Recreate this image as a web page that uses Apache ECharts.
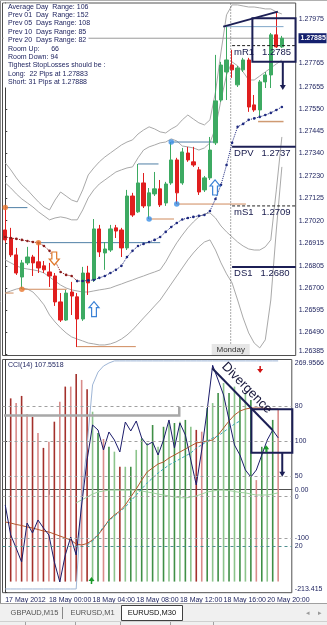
<!DOCTYPE html>
<html>
<head>
<meta charset="utf-8">
<script src="https://cdn.jsdelivr.net/npm/echarts@6.0.0/dist/echarts.min.js"></script>
<style>
html,body{margin:0;padding:0;background:#ffffff;overflow:hidden}
#chart{width:327px;height:625px}
</style>
</head>
<body>
<div id="chart"></div>
<script>
// ---------------- DATA ----------------
const barTimes = ['17 May 20:00','17 May 20:30','17 May 21:00','17 May 21:30','17 May 22:00','17 May 22:30','17 May 23:00','17 May 23:30',
'18 May 00:00','18 May 00:30','18 May 01:00','18 May 01:30','18 May 02:00','18 May 02:30','18 May 03:00','18 May 03:30',
'18 May 04:00','18 May 04:30','18 May 05:00','18 May 05:30','18 May 06:00','18 May 06:30','18 May 07:00','18 May 07:30',
'18 May 08:00','18 May 08:30','18 May 09:00','18 May 09:30','18 May 10:00','18 May 10:30','18 May 11:00','18 May 11:30',
'18 May 12:00','18 May 12:30','18 May 13:00','18 May 13:30','18 May 14:00','18 May 14:30','18 May 15:00','18 May 15:30',
'18 May 16:00','18 May 16:30','18 May 17:00','18 May 17:30','18 May 18:00','18 May 18:30','18 May 19:00','18 May 19:30',
'20 May 20:00','20 May 20:30','20 May 21:00',' ','  '];
const xLabelIndex = [0,8,16,24,32,40,48];
const xLabelText = ['17 May 2012','18 May 00:00','18 May 04:00','18 May 08:00','18 May 12:00','18 May 16:00','20 May 20:00'];

const opens  = [1.26976,1.26938,1.26858,1.26753,1.26820,1.26848,1.26825,1.26806,1.26777,1.26758,1.26635,1.26549,1.26682,1.26659,1.26554,1.26772,1.26739,1.26981,1.26867,1.26881,1.26986,1.26976,1.26891,1.27137,1.27062,1.27199,1.27090,1.27147,1.27171,1.27104,1.27199,1.27308,1.27199,1.27341,1.27299,1.27261,1.27166,1.27223,1.27389,1.27592,1.27725,1.27758,1.27664,1.27735,1.27782,1.27569,1.27545,1.27678,1.27711,1.27901,1.27844];
const closes = [1.26929,1.26858,1.26772,1.26820,1.26848,1.26820,1.26796,1.26787,1.26758,1.26635,1.26549,1.26677,1.26663,1.26554,1.26772,1.26725,1.26981,1.26872,1.26886,1.26981,1.26971,1.26891,1.27137,1.27047,1.27199,1.27090,1.27152,1.27171,1.27095,1.27194,1.27308,1.27152,1.27346,1.27308,1.27284,1.27156,1.27223,1.27355,1.27588,1.27758,1.27782,1.27735,1.27744,1.27782,1.27559,1.27545,1.27678,1.27711,1.27901,1.27844,1.27885];
const lows   = [1.26915,1.26848,1.26763,1.26696,1.26810,1.26758,1.26772,1.26772,1.26706,1.26616,1.26540,1.26545,1.26573,1.26421,1.26545,1.26668,1.26730,1.26848,1.26787,1.26872,1.26938,1.26848,1.26881,1.27038,1.27057,1.27080,1.27028,1.27137,1.27085,1.27090,1.27190,1.27099,1.27190,1.27299,1.27275,1.27142,1.27156,1.27213,1.27379,1.27583,1.27592,1.27697,1.27654,1.27725,1.27536,1.27536,1.27512,1.27649,1.27649,1.27839,1.27839];
const highs  = [1.27085,1.26986,1.26891,1.26834,1.26896,1.26858,1.26915,1.26829,1.26820,1.26772,1.26677,1.26692,1.26730,1.26677,1.26801,1.26806,1.27028,1.27000,1.26919,1.27000,1.27000,1.26986,1.27166,1.27152,1.27289,1.27246,1.27175,1.27251,1.27213,1.27204,1.27393,1.27318,1.27365,1.27370,1.27370,1.27275,1.27232,1.27417,1.27806,1.27773,1.27939,1.27830,1.27754,1.27792,1.27792,1.27616,1.27687,1.27725,1.27910,1.28010,1.27896];

const maValues = [1.26943,1.26938,1.26934,1.26929,1.26924,1.26919,1.26915,1.26900,1.26877,1.26829,1.26777,1.26763,1.26758,1.26734,1.26734,1.26737,1.26739,1.26749,1.26758,1.26772,1.26787,1.26806,1.26848,1.26877,1.26900,1.26910,1.26919,1.26929,1.26943,1.26967,1.26990,1.27009,1.27026,1.27033,1.27038,1.27043,1.27047,1.27066,1.27123,1.27190,1.27284,1.27389,1.27465,1.27479,1.27498,1.27505,1.27512,1.27521,1.27531,1.27545,1.27559];
const maTrendTurn = 13;

const bandUpperOuter = [1.27294,1.27261,1.27223,1.27190,1.27166,1.27137,1.27109,1.27085,1.27071,1.27118,1.27156,1.27137,1.27118,1.27109,1.27166,1.27237,1.27270,1.27299,1.27322,1.27341,1.27360,1.27379,1.27393,1.27403,1.27431,1.27450,1.27465,1.27455,1.27441,1.27436,1.27455,1.27469,1.27498,1.27521,1.27502,1.27484,1.27474,1.27498,1.27630,1.27820,1.27996,1.28043,1.28043,1.28038,1.28033,1.28033,1.28029,1.28024,1.28024,1.28010,1.28000];
const bandUpperInner = [1.27199,1.27175,1.27147,1.27123,1.27104,1.27085,1.27062,1.27043,1.27024,1.27033,1.27038,1.27033,1.27024,1.27024,1.27071,1.27128,1.27166,1.27194,1.27213,1.27232,1.27251,1.27261,1.27270,1.27275,1.27318,1.27355,1.27370,1.27379,1.27389,1.27393,1.27408,1.27398,1.27374,1.27370,1.27365,1.27355,1.27365,1.27389,1.27460,1.27592,1.27711,1.27773,1.27754,1.27725,1.27687,1.27687,1.27706,1.27725,1.27744,1.27763,1.27782];
const bandLowerInner = [1.26834,1.26820,1.26806,1.26796,1.26791,1.26787,1.26782,1.26772,1.26753,1.26734,1.26715,1.26701,1.26692,1.26687,1.26682,1.26682,1.26687,1.26692,1.26696,1.26701,1.26711,1.26720,1.26730,1.26739,1.26749,1.26758,1.26768,1.26777,1.26787,1.26825,1.26872,1.26915,1.26952,1.26986,1.27014,1.27038,1.27052,1.27057,1.27033,1.26995,1.26967,1.26943,1.26919,1.26900,1.26886,1.26881,1.26881,1.26896,1.26929,1.27166,1.27417];
const bandLowerOuter = [1.26677,1.26687,1.26696,1.26701,1.26696,1.26682,1.26654,1.26621,1.26573,1.26540,1.26512,1.26488,1.26469,1.26459,1.26450,1.26440,1.26436,1.26431,1.26431,1.26436,1.26445,1.26459,1.26478,1.26502,1.26530,1.26559,1.26587,1.26616,1.26644,1.26682,1.26720,1.26758,1.26796,1.26834,1.26867,1.26896,1.26919,1.26929,1.26881,1.26820,1.26768,1.26725,1.26644,1.26559,1.26488,1.26440,1.26417,1.26455,1.26644,1.26976,1.27275];

const priceTicks = ['1.26385','1.26490','1.26595','1.26700','1.26805','1.26915','1.27020','1.27125','1.27230','1.27340','1.27445','1.27550','1.27655','1.27765','1.27975'];
const currentPrice = 1.27885;
const currentPriceText = '1.27885';

const pivotNames  = ['mR1','DPV','mS1','DS1'];
const pivotValues = [1.2785,1.2737,1.2709,1.2680];
const pivotStartBar = 41;

// fractal levels: [bar, price, last bar of line]
const upperFractals = [[0,1.27082,4],[6,1.26916,28],[24,1.27289,27.7],[30,1.27393,37.6]];
const lowerFractals = [[0,1.26677,1.5],[3,1.26695,11.1],[13,1.26423,23.6],[26,1.27028,30.5],[31,1.27099,43.5]];
const fractalDots = [[0,1.27082],[3,1.26695],[6,1.26916],[26,1.27028],[30,1.27393],[31,1.27099]];

const infoLines = ['Average Day  Range: 106','Prev 01  Day  Range: 152','Prev 05  Days Range: 108','Prev 10  Days Range: 85','Prev 20  Days Range: 82','Room Up:      66','Room Down: 94','Tighest StopLosses should be :','Long:  22 Pips at 1.27883','Short: 31 Pips at 1.27888'];

// CCI window
const cciTitle = 'CCI(14) 107.5518';
const cciValues = [-31.6,-93.8,-120.8,-149.8,-69.0,-89.7,-62.7,-79.3,-93.8,-149.8,-191.2,-135.3,-98.0,-135.3,-31.6,61.6,134.2,123.8,82.4,119.7,103.1,78.2,140.4,121.8,142.5,107.2,92.7,98.9,72.0,103.1,144.6,86.5,138.3,113.5,61.6,9.8,82.4,165.3,258.0,227.5,196.4,144.6,92.7,72.0,40.9,26.4,40.9,72.0,103.1,123.8,107.55];
const cciAverage = [-66.9,-69.0,-72.0,-74.1,-77.2,-79.3,-82.4,-85.5,-87.6,-91.7,-95.9,-100.0,-104.2,-112.5,-114.5,-111.4,-104.2,-93.8,-79.3,-62.7,-52.4,-44.1,-31.6,-15.0,1.5,20.2,36.8,45.1,53.4,57.5,65.8,72.0,78.2,84.4,90.7,96.9,98.9,101.0,103.1,113.5,128.0,142.5,154.9,163.2,167.3,169.4,169.4,169.4,168.4,167.3,167.3];
const cciSignal = [null,null,null,null,null,null,null,null,null,null,null,null,null,null,null,-114.5,-106.3,-91.7,-77.2,-64.8,-54.4,-46.1,-35.8,-23.3,-10.9,1.5,14.0,24.3,34.7,43.0,51.3,57.5,63.7,69.9,76.2,86.5,92.7,101.0,107.2,111.4,119.7,128.0,136.3,142.5];
const oscLine = [1.6,1.6,1.6,1.6,1.6,1.6,1.6,1.6,1.6,1.6,1.6,1.6,1.6,1.6,40.6,63.3,89.1,94.6,97.2,98.5,99.4,99.4,99.4,99.4,99.4,99.4,99.4,99.4,99.4,99.4,99.4,99.4,99.4,99.4,99.4,99.4,99.4,99.4,99.4,99.4,99.4,99.4,99.4,99.4,99.4,99.4,99.4,99.4,99.4,99.4,99.4];
const greenLine = [null,null,null,null,null,null,null,null,null,null,null,null,null,38.5,39.8,41.0,42.3,43.2,43.6,44.0,44.0,44.0,44.0,44.0,44.0,43.6,43.2,42.8,42.3,41.9,41.5,41.0,40.8,40.6,41.0,41.5,42.3,43.2,43.6,44.0,44.0,43.8,43.4,43.0,42.8,42.3,41.9,41.9,41.9,42.3,42.8];
const histValues = [null,82.5,80.4,83.6,75.5,74.2,66.9,60.2,63.0,72.0,81.0,87.8,87.8,93.5,90.8,86.6,76.5,66.9,64.2,60.7,58.5,51.7,51.7,51.7,59.3,64.5,62.4,70.5,60.7,69.7,71.4,71.4,72.0,72.8,69.7,68.3,67.5,78.2,80.4,84.9,89.4,84.9,87.8,83.3,84.9,81.8,45.7,60.7,60.7,72.8,77.7];
const histDir = ['','D','D','D','D','D','D','D','D','D','D','D','D','D','D','D','U','U','D','U','U','D','U','U','U','U','U','U','U','U','U','U','U','U','U','D','D','U','U','U','U','U','U','U','U','U','D','U','U','U','D'];

const cciTickValues = [269.9566,100,0,-100,-213.415];
const cciTickText = ['269.9566','100','0.00','-100','-213.415'];
const levelValues = [80,50,41.2,20];
const levelText = ['80','50','0','20'];

// trader annotations (bar index, value)
const mainBox = [[44.67,1.27980],[52.47,1.27774]];
const mainBoxArrow = [50.17,1.27774,1.27640];
const trendLine = [[39.41,1.27940],[49.28,1.28011]];
const resistanceLine = [[39.4,1.27940],[50.3,1.27940]];
const supportLine = [[45.7,1.27490],[50.3,1.27490]];
const upArrows = [[16.04,1.26636],[37.92,1.27213]];
const downArrows = [[8.86,1.26810]];
const divergenceLine = [[37.92,251.7],[48.97,123.8]];
const divergenceText = [44.25,210.9];
const cciBox = [[45.1,166.7],[52.6,76.8]];
const cciBoxArrow = [50.75,76.8,27.0];
const cciSmallDown = [[46.7,248.2]];
const cciSmallUp = [[47.8,85.9],[15.8,-187.1]];
const cciLabelFrame = [[-0.23,153.9],[31.88,153.9],[31.88,171.5]];

const tabs = ['GBPAUD,M15','EURUSD,M1','EURUSD,M30'];

// ---------------- CHART ----------------
const NAVY = '#1a1f5c';
const FONT = '"Liberation Sans", Arial, sans-serif';
const chart = echarts.init(document.getElementById('chart'), null, {renderer:'canvas', devicePixelRatio:1});
const candleData = opens.map((o,i)=>[o, closes[i], lows[i], highs[i]]);
const priceTickValues = priceTicks.map(Number);
const lineBase = {symbol:'none', silent:true, animation:false};

const series = [];
[bandUpperOuter, bandUpperInner, bandLowerInner, bandLowerOuter].forEach(d=>{
  series.push(Object.assign({type:'line', xAxisIndex:0, yAxisIndex:0, data:d, lineStyle:{color:'#a9a9a9', width:1}, z:1}, lineBase));
});
series.push(Object.assign({type:'line', xAxisIndex:2, yAxisIndex:0, data:[[-0.5,currentPrice],[52.5,currentPrice]], lineStyle:{color:'#9a9a9a', width:1}, z:1}, lineBase));
upperFractals.forEach(f=>series.push(Object.assign({type:'line', xAxisIndex:2, yAxisIndex:0, data:[[f[0],f[1]],[f[2],f[1]]], lineStyle:{color:'#4f7fa6', width:1}, z:2}, lineBase)));
lowerFractals.forEach(f=>series.push(Object.assign({type:'line', xAxisIndex:2, yAxisIndex:0, data:[[f[0],f[1]],[f[2],f[1]]], lineStyle:{color:'#cf8a5c', width:1}, z:2}, lineBase)));
pivotNames.forEach((n,i)=>{
  const dashed = n.charAt(0)==='m';
  series.push(Object.assign({type:'line', xAxisIndex:2, yAxisIndex:0, data:[[pivotStartBar,pivotValues[i]],[52.5,pivotValues[i]]],
    lineStyle:{color: dashed?'#222222':'#1c1f55', width: dashed?1:2, type: dashed?[3,2]:'solid'}, z:4}, lineBase));
});
series.push({type:'candlestick', xAxisIndex:0, yAxisIndex:0, data:candleData, barWidth:3.8, silent:true, animation:false, z:3,
  itemStyle:{color:'#3daa62', color0:'#e01e1e', borderColor:'#3daa62', borderColor0:'#e01e1e', borderWidth:1}});
series.push({type:'line', xAxisIndex:0, yAxisIndex:0, data:maValues.map((v,i)=>i<=maTrendTurn?v:null), symbol:'circle', symbolSize:2.6, showAllSymbol:true,
  itemStyle:{color:'#8b1c1c'}, lineStyle:{color:'#8b1c1c', width:1, type:'dotted'}, silent:true, animation:false, z:5});
series.push({type:'line', xAxisIndex:0, yAxisIndex:0, data:maValues.map((v,i)=>i>=maTrendTurn?v:null), symbol:'circle', symbolSize:2.6, showAllSymbol:true,
  itemStyle:{color:'#1f2a80'}, lineStyle:{color:'#1f2a80', width:1, type:'dotted'}, silent:true, animation:false, z:5});
series.push({type:'scatter', xAxisIndex:2, yAxisIndex:0, data:fractalDots, symbolSize:5.5, silent:true, animation:false, z:6,
  itemStyle:{color: p => p.value[0] < 20 ? '#e8772e' : '#3a8ee6'}});

series.push({type:'bar', xAxisIndex:1, yAxisIndex:3, data:histValues, barWidth:1.6, silent:true, animation:false, z:1,
  itemStyle:{color: p => { const up = histDir[p.dataIndex]==='U'; const dark = p.dataIndex%2===1; return up ? (dark?'#3f8f46':'#8cc48c') : (dark?'#a3302b':'#d98c8a'); }}});
series.push(Object.assign({type:'line', xAxisIndex:1, yAxisIndex:2, data:oscLine, lineStyle:{color:'#9fb6d6', width:1}, z:2,
  markLine:{symbol:'none', silent:true, label:{show:false}, lineStyle:{color:'#a0a0a0', type:[3,3], width:1},
    data: levelValues.map(v=>({yAxis:v, lineStyle: v===20?{color:'#4f8f8f', type:[3,3]}:{}}))}}, lineBase));
series.push(Object.assign({type:'line', xAxisIndex:1, yAxisIndex:2, data:greenLine, lineStyle:{color:'#9fd09f', width:1}, z:2}, lineBase));
series.push(Object.assign({type:'line', xAxisIndex:1, yAxisIndex:1, data:cciAverage, lineStyle:{color:'#b4562c', width:1}, z:3}, lineBase));
series.push(Object.assign({type:'line', xAxisIndex:1, yAxisIndex:1, data:cciSignal, lineStyle:{color:'#3aa8b8', width:1, type:[3,2]}, z:3}, lineBase));
series.push(Object.assign({type:'line', xAxisIndex:1, yAxisIndex:1, data:cciValues, lineStyle:{color:'#1c1c6b', width:1}, z:4,
  markLine:{symbol:'none', silent:true, label:{show:false}, lineStyle:{color:'#a0a0a0', type:[3,3], width:1}, data:[{yAxis:100},{yAxis:-100}]}}, lineBase));

const edgeRich = {top:{padding:[7,0,0,0], fontSize:7, fontFamily:FONT, color:NAVY}, bot:{padding:[0,0,7,0], fontSize:7, fontFamily:FONT, color:NAVY}};
const option = {
  animation:false,
  backgroundColor:'#ffffff',
  grid:[
    {left:2.5, right:29, top:3, height:352.5, show:true, borderColor:'#505050', borderWidth:1, backgroundColor:'#ffffff'},
    {left:2.5, right:29, top:359.5, height:233.2, show:true, borderColor:'#505050', borderWidth:1, backgroundColor:'#ffffff'}
  ],
  xAxis:[
    {type:'category', gridIndex:0, data:barTimes, boundaryGap:true, show:false},
    {type:'category', gridIndex:1, data:barTimes, boundaryGap:true,
      axisLine:{show:true, lineStyle:{color:'#505050'}},
      axisTick:{show:true, alignWithLabel:true, length:5, interval:(i)=>xLabelIndex.indexOf(i)>=0, lineStyle:{color:'#505050'}},
      axisLabel:{interval:(i)=>xLabelIndex.indexOf(i)>=0, formatter:(v,i)=>{const k=xLabelIndex.indexOf(i); return k>=0?xLabelText[k]:'';},
        align:'left', fontSize:7, fontFamily:FONT, color:NAVY, margin:4}},
    {type:'value', gridIndex:0, min:-0.5, max:52.5, show:false},
    {type:'value', gridIndex:1, min:-0.5, max:52.5, show:false}
  ],
  yAxis:[
    {type:'value', gridIndex:0, position:'right', min:1.26381, max:1.28052,
      axisLine:{show:true, lineStyle:{color:'#404040'}}, splitLine:{show:false},
      axisTick:{show:true, length:2, customValues:priceTickValues, lineStyle:{color:'#404040'}},
      axisLabel:{customValues:priceTickValues, fontSize:7, fontFamily:FONT, color:NAVY, margin:3, rich:edgeRich,
        formatter:(v)=>{const k=priceTickValues.findIndex(t=>Math.abs(t-v)<1e-7); if(k<0) return ''; return k===0?'{bot|'+priceTicks[k]+'}':priceTicks[k];}}},
    {type:'value', gridIndex:1, position:'right', offset:0, min:-213.415, max:269.9566,
      axisLine:{show:true, lineStyle:{color:'#404040'}}, splitLine:{show:false},
      axisTick:{show:true, length:2, customValues:cciTickValues},
      axisLabel:{customValues:cciTickValues, fontSize:7, fontFamily:FONT, color:NAVY, margin:3, rich:edgeRich,
        formatter:(v)=>{const k=cciTickValues.findIndex(t=>Math.abs(t-v)<1e-6); if(k<0) return '';
          if(k===0) return '{top|'+cciTickText[k]+'}'; if(k===cciTickText.length-1) return '{bot|'+cciTickText[k]+'}'; return cciTickText[k];}}},
    {type:'value', gridIndex:1, position:'right', offset:0, min:0, max:100,
      axisLine:{show:false}, splitLine:{show:false}, axisTick:{show:false},
      axisLabel:{customValues:levelValues, fontSize:7, fontFamily:FONT, color:NAVY, margin:3,
        formatter:(v)=>{const k=levelValues.findIndex(t=>Math.abs(t-v)<1e-6); return k>=0?levelText[k]:'';}}},
    {type:'value', gridIndex:1, position:'right', offset:0, min:-5, max:100, show:false}
  ],
  series: series
};
chart.setOption(option);

// ---------------- ANNOTATIONS ----------------
const pm = (x,y)=>chart.convertToPixel({xAxisIndex:2, yAxisIndex:0}, [x,y]);
const pc = (x,y)=>chart.convertToPixel({xAxisIndex:3, yAxisIndex:1}, [x,y]);
const g = [];
const txt = (x,y,t,opt)=>Object.assign({type:'text', x:x, y:y, z:80, silent:true,
  style:Object.assign({text:t, fill:NAVY, font:'7px '+FONT, align:'left', verticalAlign:'middle'}, (opt&&opt.style)||{})}, (opt&&opt.el)||{});

g.push({type:'rect', shape:{x:3.5, y:3.5, width:85, height:84}, style:{fill:'#ffffff'}, z:50, silent:true});
infoLines.forEach((t,i)=>g.push(txt(8, 6.8+i*8.37, t)));

const sepX = pm(40.75, currentPrice)[0];
g.push({type:'line', shape:{x1:sepX, y1:3.5, x2:sepX, y2:355}, style:{stroke:'#555', lineWidth:1, lineDash:[1,2]}, z:40, silent:true});
g.push({type:'rect', shape:{x:sepX-19, y:344, width:38, height:11}, style:{fill:'#e6e6e6'}, z:41, silent:true});
g.push(txt(sepX, 349.5, 'Monday', {style:{align:'center', fill:'#333', font:'8px '+FONT}}));

pivotNames.forEach((n,i)=>{
  const p = pm(pivotStartBar, pivotValues[i]);
  g.push(txt(p[0]+2, p[1]+6.5, n+'   '+pivotValues[i].toFixed(4), {style:{font:'9.5px '+FONT, fill:'#15184a'}}));
});

const cp = pm(52.5, currentPrice);
g.push({type:'rect', shape:{x:298.5, y:cp[1]-5, width:28, height:10}, style:{fill:'#14206e'}, z:60, silent:true});
g.push(txt(300.5, cp[1], currentPriceText, {style:{fill:'#ffffff', font:'bold 7px '+FONT}}));

const b1 = pm(mainBox[0][0], mainBox[0][1]), b2 = pm(mainBox[1][0], mainBox[1][1]);
g.push({type:'rect', shape:{x:b1[0], y:b1[1], width:b2[0]-b1[0], height:b2[1]-b1[1]}, style:{fill:'none', stroke:'#1c1f55', lineWidth:2}, z:45, silent:true});
function arrowDown(x, y1, y2, color){
  g.push({type:'line', shape:{x1:x, y1:y1, x2:x, y2:y2-4}, style:{stroke:color, lineWidth:2}, z:45, silent:true});
  g.push({type:'polygon', shape:{points:[[x-3,y2-5],[x+3,y2-5],[x,y2]]}, style:{fill:color}, z:45, silent:true});
}
const ma1 = pm(mainBoxArrow[0], mainBoxArrow[1]), ma2 = pm(mainBoxArrow[0], mainBoxArrow[2]);
arrowDown(ma1[0], ma1[1], ma2[1], '#1c1f55');
const t1 = pm(trendLine[0][0], trendLine[0][1]), t2 = pm(trendLine[1][0], trendLine[1][1]);
g.push({type:'line', shape:{x1:t1[0], y1:t1[1], x2:t2[0], y2:t2[1]}, style:{stroke:'#1c1f55', lineWidth:2}, z:45, silent:true});
const r1 = pm(resistanceLine[0][0], resistanceLine[0][1]), r2 = pm(resistanceLine[1][0], resistanceLine[1][1]);
g.push({type:'line', shape:{x1:r1[0], y1:r1[1], x2:r2[0], y2:r2[1]}, style:{stroke:'#7fa6c8', lineWidth:1}, z:44, silent:true});
const s1 = pm(supportLine[0][0], supportLine[0][1]), s2 = pm(supportLine[1][0], supportLine[1][1]);
g.push({type:'line', shape:{x1:s1[0], y1:s1[1], x2:s2[0], y2:s2[1]}, style:{stroke:'#cf9a72', lineWidth:1.5}, z:44, silent:true});

function hollowUp(x, y, color){
  g.push({type:'polygon', shape:{points:[[x,y],[x+5,y+6],[x+2.4,y+6],[x+2.4,y+15],[x-2.4,y+15],[x-2.4,y+6],[x-5,y+6]]},
    style:{fill:'#ffffff', stroke:color, lineWidth:1.2}, z:46, silent:true});
}
function hollowDown(x, y, color){
  g.push({type:'polygon', shape:{points:[[x,y],[x+5,y-6],[x+2.4,y-6],[x+2.4,y-13],[x-2.4,y-13],[x-2.4,y-6],[x-5,y-6]]},
    style:{fill:'#ffffff', stroke:color, lineWidth:1.2}, z:46, silent:true});
}
upArrows.forEach(a=>{const p=pm(a[0],a[1]); hollowUp(p[0],p[1],'#3b82d6');});
downArrows.forEach(a=>{const p=pm(a[0],a[1]); hollowDown(p[0],p[1],'#e0782a');});

g.push(txt(8, 365.5, cciTitle));
const f0 = cciLabelFrame.map(q=>pc(q[0],q[1]));
g.push({type:'polyline', shape:{points:f0}, style:{stroke:'#a8a8a8', lineWidth:2.5, fill:'none'}, z:30, silent:true});
const d1 = pc(divergenceLine[0][0], divergenceLine[0][1]), d2 = pc(divergenceLine[1][0], divergenceLine[1][1]);
g.push({type:'line', shape:{x1:d1[0], y1:d1[1], x2:d2[0], y2:d2[1]}, style:{stroke:'#1c1f55', lineWidth:2}, z:45, silent:true});
const dt = pc(divergenceText[0], divergenceText[1]);
g.push({type:'text', x:dt[0], y:dt[1], rotation:-Math.atan2(d2[1]-d1[1], d2[0]-d1[0]), z:60, silent:true,
  style:{text:'Divergence', fill:'#15153a', font:'13px '+FONT, align:'center', verticalAlign:'middle'}});
const cb1 = pc(cciBox[0][0], cciBox[0][1]), cb2 = pc(cciBox[1][0], cciBox[1][1]);
g.push({type:'rect', shape:{x:cb1[0], y:cb1[1], width:cb2[0]-cb1[0], height:cb2[1]-cb1[1]}, style:{fill:'none', stroke:'#1c1f55', lineWidth:2}, z:45, silent:true});
const ca1 = pc(cciBoxArrow[0], cciBoxArrow[1]), ca2 = pc(cciBoxArrow[0], cciBoxArrow[2]);
arrowDown(ca1[0], ca1[1], ca2[1], '#1c1f55');
cciSmallDown.forEach(a=>{const p=pc(a[0],a[1]);
  g.push({type:'line', shape:{x1:p[0],y1:p[1]-4,x2:p[0],y2:p[1]}, style:{stroke:'#d01010', lineWidth:1.5}, z:46, silent:true});
  g.push({type:'polygon', shape:{points:[[p[0]-3,p[1]-1],[p[0]+3,p[1]-1],[p[0],p[1]+3]]}, style:{fill:'#d01010'}, z:46, silent:true});});
cciSmallUp.forEach(a=>{const p=pc(a[0],a[1]);
  g.push({type:'line', shape:{x1:p[0],y1:p[1],x2:p[0],y2:p[1]+4}, style:{stroke:'#1a9a2a', lineWidth:1.5}, z:46, silent:true});
  g.push({type:'polygon', shape:{points:[[p[0]-3,p[1]+1],[p[0]+3,p[1]+1],[p[0],p[1]-3]]}, style:{fill:'#1a9a2a'}, z:46, silent:true});});

g.push({type:'line', shape:{x1:0.5, y1:0, x2:0.5, y2:603}, style:{stroke:'#8a8a8a', lineWidth:1}, z:70, silent:true});
g.push({type:'line', shape:{x1:0, y1:0.5, x2:327, y2:0.5}, style:{stroke:'#b0b0b0', lineWidth:1}, z:70, silent:true});

g.push({type:'rect', shape:{x:0, y:603, width:327, height:22}, style:{fill:'#f0f0f0'}, z:70, silent:true});
g.push({type:'line', shape:{x1:0, y1:603.5, x2:327, y2:603.5}, style:{stroke:'#a0a0a0', lineWidth:1}, z:71, silent:true});
g.push({type:'rect', shape:{x:121.5, y:605.5, width:61, height:15}, style:{fill:'#ffffff', stroke:'#404040', lineWidth:1}, z:71, silent:true});
g.push(txt(34.5, 613, tabs[0], {style:{align:'center', fill:'#555', font:'7.5px '+FONT}}));
g.push({type:'line', shape:{x1:62.5, y1:607, x2:62.5, y2:619}, style:{stroke:'#888', lineWidth:1}, z:72, silent:true});
g.push(txt(92.5, 613, tabs[1], {style:{align:'center', fill:'#555', font:'7.5px '+FONT}}));
g.push(txt(152, 613, tabs[2], {style:{align:'center', fill:'#111', font:'7.5px '+FONT}}));
g.push(txt(308, 613, '\u25C2', {style:{align:'center', fill:'#999', font:'7px '+FONT}}));
g.push(txt(320, 613, '\u25B8', {style:{align:'center', fill:'#999', font:'7px '+FONT}}));
g.push({type:'line', shape:{x1:0, y1:621.5, x2:327, y2:621.5}, style:{stroke:'#d0d0d0', lineWidth:1}, z:72, silent:true});
[25,75,120,170,213].forEach(x=>g.push({type:'line', shape:{x1:x+0.5, y1:622, x2:x+0.5, y2:625}, style:{stroke:'#a0a0a0', lineWidth:1}, z:72, silent:true}));

chart.setOption({graphic:g});
</script>
</body>
</html>
